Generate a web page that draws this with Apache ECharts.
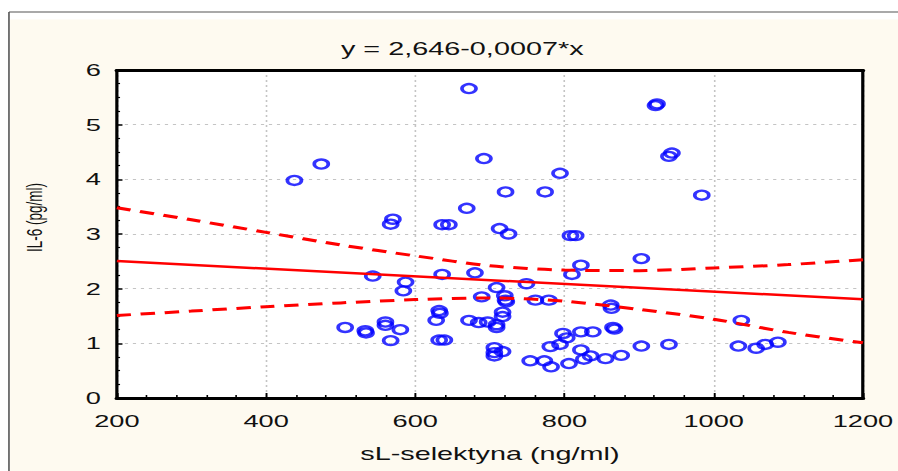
<!DOCTYPE html>
<html>
<head>
<meta charset="utf-8">
<script src="https://cdn.jsdelivr.net/npm/echarts@6/dist/echarts.min.js"></script>
<style>
html,body{margin:0;padding:0;background:#fff;overflow:hidden;}
#wrap{width:898px;height:471px;overflow:hidden;position:relative;}
#chart{width:561px;height:471px;transform:scaleX(1.60071);transform-origin:0 0;}
</style>
</head>
<body>
<div id="wrap"><div id="chart"></div></div>
<script>
// sL-selektyna (ng/ml) values
const sLSelektyna = [672,692,794,721,774,669,570,567,636,645,713,725,808,815,
  474,438,506,
  924,922,944,940,984,903,
  862,863,865,867,855,876,903,940,1037,1033,1057,1069,1086,
  543,587,584,636,680,709,749,689,720,721,722,761,779,810,822,
  533,534,560,560,580,567,632,633,628,632,639,672,685,697,709,709,717,717,
  706,717,706,706,754,773,782,781,794,798,803,806,822,838,822,826,835];
// IL-6 (pg/ml) values
const il6 = [5.66,4.38,4.11,3.77,3.77,3.47,3.27,3.18,3.17,3.17,3.10,3.00,2.97,2.97,
  4.28,3.98,1.29,
  5.38,5.35,4.48,4.42,3.71,2.55,
  1.70,1.64,1.29,1.26,0.72,0.78,0.95,0.98,1.42,0.95,0.91,0.98,1.02,
  2.23,2.12,1.96,2.26,2.29,2.02,2.09,1.85,1.87,1.79,1.76,1.79,1.79,2.26,2.43,
  1.23,1.19,1.39,1.33,1.25,1.05,1.60,1.55,1.42,1.06,1.06,1.42,1.38,1.39,1.34,1.29,1.57,1.49,
  0.92,0.85,0.83,0.77,0.68,0.68,0.57,0.94,0.98,1.18,1.10,0.63,1.21,1.21,0.88,0.71,0.77];
// regression line y = 2,646-0,0007*x (end points)
const regX = [200, 1200];
const regY = [2.506, 1.806];
// 95% confidence band
const bandX = [200,300,400,500,600,700,800,900,1000,1100,1200];
const bandUpper = [3.48,3.26,3.03,2.80,2.60,2.42,2.34,2.33,2.38,2.44,2.53];
const bandLower = [1.51,1.59,1.67,1.74,1.80,1.83,1.77,1.62,1.44,1.20,1.01];
// axis ticks
const xTicks = {min:200, max:1200, step:200};
const yTicks = {min:0, max:6, step:1};
const titleText = 'y = 2,646-0,0007*x';
const xName = 'sL-selektyna (ng/ml)';
const yName = 'IL-6 (pg/ml)';

const pts = sLSelektyna.map((x, i) => [x, il6[i]]);
const reg = regX.map((x, i) => [x, regY[i]]);
const up = bandX.map((x, i) => [x, bandUpper[i]]);
const lo = bandX.map((x, i) => [x, bandLower[i]]);

const FONT = '"Liberation Sans", Arial, sans-serif';
const chart = echarts.init(document.getElementById('chart'), null, {renderer:'svg'});
const gridLine = {show:true, lineStyle:{color:'#c4c4c4', type:[2,3], width:1}};
chart.setOption({
  animation:false,
  backgroundColor:'transparent',
  graphic:[
    {type:'rect', z:-10, shape:{x:5.6, y:12, width:900, height:600}, style:{fill:'#ffffff'}},
    {type:'rect', z:-9, shape:{x:6.3, y:19.5, width:900, height:600}, style:{fill:'#fefaf0'}},
    {type:'line', z:-8, shape:{x1:5.6, y1:12, x2:900, y2:12}, style:{stroke:'#555555', lineWidth:1.2}},
    {type:'line', z:-8, shape:{x1:5.6, y1:12, x2:5.6, y2:600}, style:{stroke:'#555555', lineWidth:1}}
  ],
  title:{text:titleText, left:208, top:35, textStyle:{fontFamily:FONT, fontSize:18, fontWeight:'normal', color:'#111'}},
  grid:{left:73, right:21, top:70, bottom:73, show:true, backgroundColor:'#ffffff', borderWidth:0},
  xAxis:[{
    type:'value', min:xTicks.min, max:xTicks.max, interval:xTicks.step,
    name:xName, nameLocation:'middle', nameGap:47,
    nameTextStyle:{fontFamily:FONT, fontSize:18, color:'#111'},
    axisLine:{show:true, onZero:false, lineStyle:{color:'#000', width:3}},
    axisTick:{show:true, inside:true, length:5, lineStyle:{color:'#000', width:1.2}},
    minorTick:{show:true, splitNumber:5, length:3, lineStyle:{color:'#000', width:1}},
    axisLabel:{fontFamily:FONT, fontSize:17, color:'#111', margin:14, formatter:v => String(v)},
    splitLine:gridLine
  },{
    type:'value', position:'top', min:xTicks.min, max:xTicks.max,
    axisLine:{show:true, onZero:false, lineStyle:{color:'#000', width:3}},
    axisTick:{show:false}, axisLabel:{show:false}, splitLine:{show:false}
  }],
  yAxis:[{
    type:'value', min:yTicks.min, max:yTicks.max, interval:yTicks.step,
    name:yName, nameLocation:'middle', nameGap:44, nameRotate:90,
    nameTextStyle:{fontFamily:FONT, fontSize:13.5, color:'#111', padding:[0,0,0,33]},
    axisLine:{show:true, onZero:false, lineStyle:{color:'#000', width:2}},
    axisTick:{show:true, inside:true, length:3.5, lineStyle:{color:'#000', width:1.5}},
    minorTick:{show:true, splitNumber:4, length:2, lineStyle:{color:'#000', width:1.2}},
    axisLabel:{fontFamily:FONT, fontSize:17, color:'#111', margin:10, formatter:v => String(v)},
    splitLine:gridLine
  },{
    type:'value', position:'right', min:yTicks.min, max:yTicks.max,
    axisLine:{show:true, onZero:false, lineStyle:{color:'#000', width:2}},
    axisTick:{show:false}, axisLabel:{show:false}, splitLine:{show:false}
  }],
  series:[
    {type:'scatter', data:pts, symbol:'circle', symbolSize:[8.8,9],
     itemStyle:{color:'rgba(0,0,0,0)', borderColor:'#0000ff', borderWidth:2.3}, z:3},
    {type:'line', data:reg, showSymbol:false, symbol:'none',
     lineStyle:{color:'#ff0000', width:2.5}, z:4},
    {type:'line', data:up, showSymbol:false, symbol:'none', smooth:0.3,
     lineStyle:{color:'#ff0000', width:3, type:[9,6]}, z:4},
    {type:'line', data:lo, showSymbol:false, symbol:'none', smooth:0.3,
     lineStyle:{color:'#ff0000', width:3, type:[9,6]}, z:4}
  ]
});
</script>
</body>
</html>
